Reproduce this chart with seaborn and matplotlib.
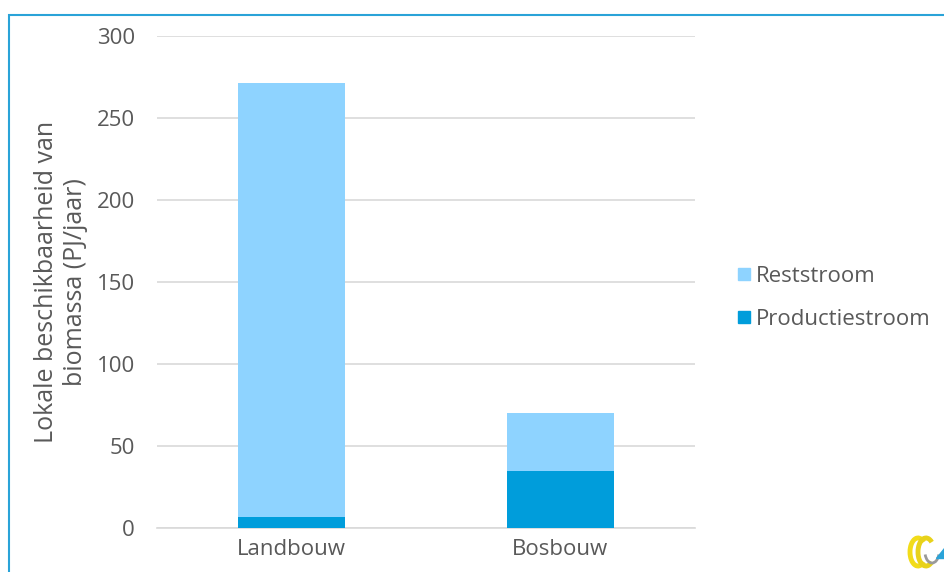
import matplotlib
matplotlib.use("Agg")
import matplotlib.pyplot as plt
import seaborn as sns
import pandas as pd
import numpy as np
from matplotlib.patches import Rectangle, Arc, Polygon
from matplotlib.lines import Line2D

categories = ["Landbouw", "Bosbouw"]
productiestroom = [6.7, 34.8]
reststroom = [264.6, 35.3]
y_ticks = [0, 50, 100, 150, 200, 250, 300]

sns.set_theme(style="white")
plt.rcParams['font.family'] = ['Open Sans', 'DejaVu Sans']

TXT = "#595959"
C_REST = "#8ED3FF"
C_PROD = "#009DDB"

df = pd.DataFrame({"cat": categories,
                   "prod": productiestroom,
                   "rest": reststroom})
df["total"] = df["prod"] + df["rest"]

fig = plt.figure(figsize=(9.44, 5.72), dpi=100)
ax = fig.add_axes([157/944, 44/572, 538/944, 492/572])

sns.barplot(data=df, x="cat", y="total", color=C_REST, width=0.4,
            saturation=1, ax=ax, zorder=3, linewidth=0)
sns.barplot(data=df, x="cat", y="prod", color=C_PROD, width=0.4,
            saturation=1, ax=ax, zorder=4, linewidth=0)

ax.set_xlim(-0.5, 1.5)
ax.set_ylim(0, 300)
ax.set_yticks(y_ticks)
ax.yaxis.grid(True, color="#d9d9d9", linewidth=1.2, zorder=0)
ax.set_axisbelow(True)
for s in ["top", "right", "left"]:
    ax.spines[s].set_visible(False)
ax.spines["bottom"].set_color("#d9d9d9")
ax.spines["bottom"].set_linewidth(1.2)
ax.tick_params(axis="both", length=0, labelsize=16, labelcolor=TXT)
ax.tick_params(axis="y", pad=16)
ax.tick_params(axis="x", pad=8)
ax.set_xlabel("")
ax.set_ylabel("Lokale beschikbaarheid van\nbiomassa (PJ/jaar)", fontsize=18,
              color=TXT, linespacing=1.2, labelpad=6)

handles = [Line2D([], [], marker="s", linestyle="", markersize=9, color=C_REST),
           Line2D([], [], marker="s", linestyle="", markersize=9, color=C_PROD)]
fig.legend(handles, ["Reststroom", "Productiestroom"], loc="center left",
           bbox_to_anchor=(713/944, 1 - 298/572), frameon=False, fontsize=16,
           labelcolor=TXT, handletextpad=0.05, labelspacing=1.0, handlelength=1.0)

# frame
fig.patches.append(Rectangle((9/944, -0.1), 1.2, (572 - 15)/572 + 0.1,
                             transform=fig.transFigure, fill=False,
                             edgecolor="#2aa3d8", linewidth=1.5))

# logo approximation
lax = fig.add_axes([898/944, 0, 46/944, 45/572])
lax.set_xlim(0, 46); lax.set_ylim(0, 45)
lax.axis("off")
for cx, col in [(20, "#f2dc1a"), (28, "#e8d21a")]:
    lax.add_patch(Arc((cx, 20), 16, 28, theta1=60, theta2=300,
                      color=col, linewidth=3.5))
lax.add_patch(Arc((34, 20), 14, 22, theta1=200, theta2=340,
                  color="#9a9a9a", linewidth=2))
lax.add_patch(Polygon([[38, 14], [46, 14], [46, 24]], color="#2aa3d8"))

fig.savefig("out.png", dpi=100)
